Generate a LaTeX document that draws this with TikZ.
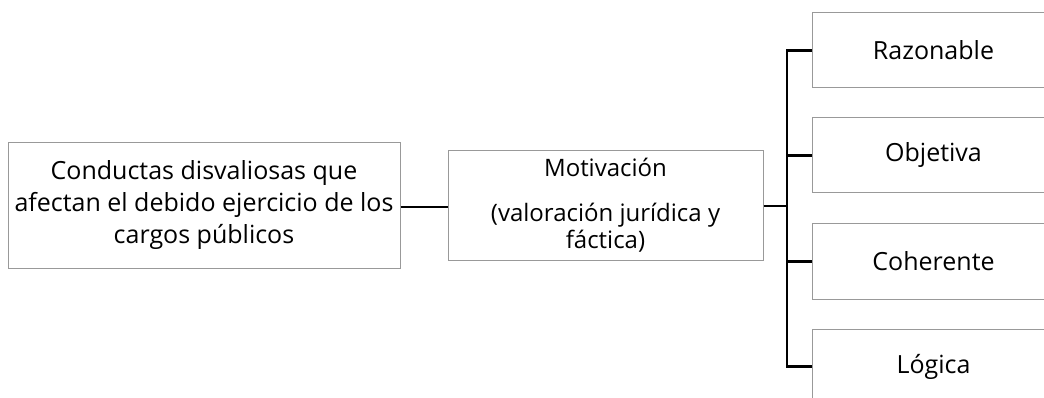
\documentclass[tikz,border=0pt]{standalone}
\usepackage{fontspec}
\setmainfont{Open Sans}
\definecolor{boxgray}{HTML}{999999}
\begin{document}
\begin{tikzpicture}[x=1pt,y=-1pt,
  box/.style={draw=boxgray, line width=1pt, inner sep=0pt, align=center},
  leaf/.style={box, minimum width=242pt, minimum height=75pt, anchor=west, font=\fontsize{25}{30}\selectfont},
  conn/.style={draw=black, line width=2.2pt}]
\useasboundingbox (0,0) rectangle (1044,398);
\fill[white] (0,0) rectangle (1044,398);
\clip (0,0) rectangle (1044,398);
\node[box, minimum width=392pt, minimum height=125pt, font=\fontsize{25}{32}\selectfont] (left) at (204,205.5) {Conductas disvaliosas que\\afectan el debido ejercicio de los\\cargos públicos};
\node[box, minimum width=315pt, minimum height=109pt, font=\fontsize{24}{27}\selectfont] (mid) at (605.5,205.5) {Motivación\\[18pt](valoración jurídica y\\fáctica)};
\node[leaf] (r1) at (812,50.5) {Razonable};
\node[leaf] (r2) at (812,155.5) {Objetiva};
\node[leaf] (r3) at (812,261.5) {Coherente};
\node[leaf] (r4) at (812,366.5) {Lógica};
\coordinate (trunk) at (787,206);
\draw[conn] (left.east |- 0,207) -- (mid.west |- 0,207);
\draw[conn] (mid.east |- trunk) -- (trunk);
\draw[conn, line cap=rect] (trunk |- r1.west) -- (trunk |- r4.west);
\draw[conn] (trunk |- r1.west) -- (r1.west);
\draw[conn] (trunk |- r2.west) -- (r2.west);
\draw[conn] (trunk |- r3.west) -- (r3.west);
\draw[conn] (trunk |- r4.west) -- (r4.west);
\end{tikzpicture}
\end{document}
